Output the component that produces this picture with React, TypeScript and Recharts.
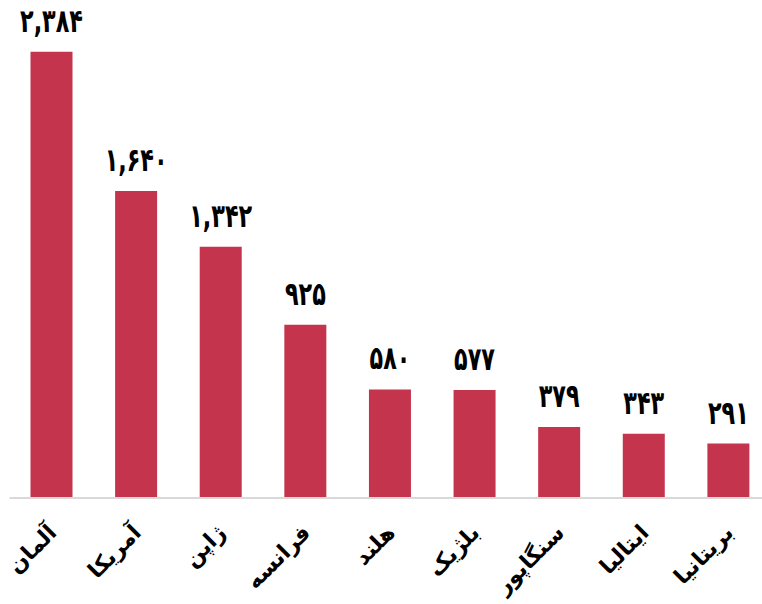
import { BarChart, Bar, XAxis, YAxis, LabelList } from 'recharts';

const countries = ['آلمان', 'آمریکا', 'ژاپن', 'فرانسه', 'هلند', 'بلژیک', 'سنگاپور', 'ایتالیا', 'بریتانیا'];
const values = [2384, 1640, 1342, 925, 580, 577, 379, 343, 291];

const data = countries.map((name, i) => ({ name, value: values[i] }));

const faDigits = '۰۱۲۳۴۵۶۷۸۹';
function toPersian(n: number) {
  return n
    .toString()
    .replace(/\B(?=(\d{3})+(?!\d))/g, ',')
    .replace(/\d/g, (d) => faDigits[Number(d)]);
}

function CountryTick(props: any) {
  const { x, y, payload } = props;
  return (
    <g transform={`translate(${x + 6},${y + 28})`}>
      <text
        transform="rotate(-45)"
        textAnchor="end"
        fontSize={22}
        fontWeight="bold"
        fill="#000"
        fontFamily="'DejaVu Sans', sans-serif"
      >
        {payload.value}
      </text>
    </g>
  );
}

// taller, narrower digits like the original font
function ValueLabel(props: any) {
  const { x, y, width, value } = props;
  return (
    <g transform={`translate(${x + width / 2},${y - 20}) scale(0.93,1.35)`}>
      <text textAnchor="middle" fontSize={24} fontWeight="bold" fill="#000" fontFamily="'DejaVu Sans', sans-serif">
        {toPersian(Number(value))}
      </text>
    </g>
  );
}

export default function App() {
  return (
    <div style={{ position: 'absolute', left: 0, top: 0, width: 762, height: 604, overflow: 'hidden', background: '#fff' }}>
      <BarChart
        width={780}
        height={604}
        data={data}
        margin={{ top: 30, right: 9, bottom: 0, left: 9.5 }}
      >
        <XAxis
          dataKey="name"
          height={106}
          interval={0}
          tickLine={false}
          axisLine={{ stroke: '#d9d9d9', strokeWidth: 2 }}
          tick={<CountryTick />}
        />
        <YAxis hide domain={[0, 2500]} />
        <Bar dataKey="value" fill="#C4344C" barSize={42} isAnimationActive={false}>
          <LabelList dataKey="value" content={<ValueLabel />} />
        </Bar>
      </BarChart>
    </div>
  );
}
